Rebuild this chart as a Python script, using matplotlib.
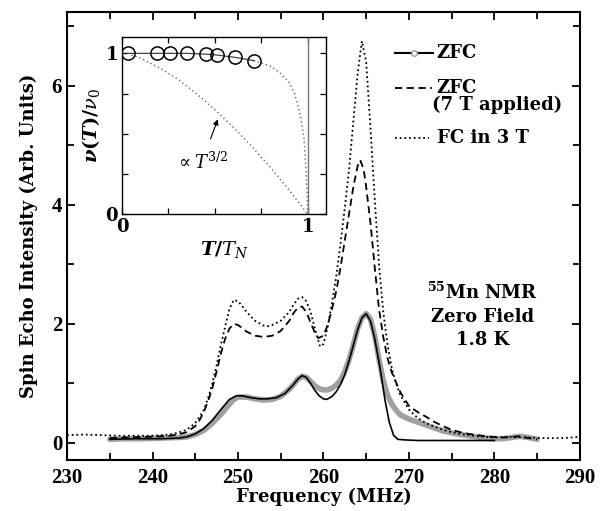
import matplotlib
matplotlib.use('Agg')
import matplotlib.pyplot as plt
from matplotlib.ticker import MultipleLocator

# ---- main spectra ----
freq_fc = [230, 232, 234, 236, 238, 240, 242, 243, 244, 245, 246, 246.5, 247, 247.5, 248, 248.5,
           249, 249.5, 250, 250.5, 251, 252, 253, 253.5, 254, 255, 256, 256.5, 257, 257.5, 258,
           258.5, 259, 259.6, 260, 260.5, 261, 261.5, 262, 262.5, 263, 263.5, 264, 264.5, 265,
           265.5, 266, 266.5, 267, 267.5, 268, 268.5, 269, 270, 271, 272, 273, 274, 275, 276,
           278, 280, 282, 284, 286, 288, 290]
int_fc = [0.13, 0.14, 0.13, 0.12, 0.12, 0.12, 0.14, 0.17, 0.22, 0.33, 0.55, 0.75, 1.0, 1.3, 1.65, 1.95,
          2.25, 2.4, 2.38, 2.3, 2.2, 2.05, 1.97, 1.96, 1.98, 2.05, 2.2, 2.32, 2.42, 2.45, 2.38,
          2.2, 1.92, 1.62, 1.66, 1.95, 2.35, 2.8, 3.35, 3.95, 4.6, 5.4, 6.2, 6.75, 6.4,
          5.3, 4.1, 3.0, 2.2, 1.65, 1.25, 1.0, 0.8, 0.56, 0.42, 0.33, 0.27, 0.22, 0.18, 0.15,
          0.11, 0.09, 0.1, 0.09, 0.08, 0.08, 0.1]

freq_7t = [235, 237, 239, 241, 242, 243, 244, 245, 245.5, 246, 246.5, 247, 247.5, 248, 248.5, 249,
           249.5, 250, 250.5, 251, 252, 253, 254, 255, 256, 256.5, 257, 257.5, 258, 258.5, 259,
           259.4, 260, 260.5, 261, 261.5, 262, 262.5, 263, 263.5, 264, 264.3, 264.7, 265, 265.5,
           266, 266.5, 267, 267.5, 268, 269, 270, 271, 272, 273, 274, 275, 276, 277, 278, 279,
           280, 281, 282, 283, 284, 285]
int_7t = [0.08, 0.09, 0.1, 0.11, 0.12, 0.14, 0.18, 0.28, 0.38, 0.52, 0.7, 0.92, 1.2, 1.5, 1.75, 1.92,
          2.0, 1.98, 1.93, 1.87, 1.8, 1.78, 1.8, 1.88, 2.05, 2.18, 2.27, 2.29, 2.2, 2.02, 1.85,
          1.76, 1.8, 1.98, 2.25, 2.55, 2.95, 3.4, 3.85, 4.3, 4.65, 4.75, 4.6, 4.3, 3.7,
          2.95, 2.25, 1.78, 1.42, 1.18, 0.85, 0.62, 0.52, 0.44, 0.35, 0.28, 0.22, 0.18, 0.15, 0.13, 0.11,
          0.1, 0.09, 0.1, 0.11, 0.08, 0.06]

freq_zfc = [235, 237, 239, 241, 243, 244, 245, 246, 247, 248, 249, 249.5, 250, 251, 252, 253, 254,
            255, 256, 256.5, 257, 257.5, 258, 258.5, 259, 259.5, 260, 260.5, 261, 261.5, 262, 262.5,
            263, 263.5, 264, 264.5, 265, 265.5, 266, 266.5, 267, 267.5, 268, 268.5, 269, 270, 271,
            272, 273, 274, 275, 276, 277, 278, 279, 280, 281, 282, 283, 284, 285]
int_zfc = [0.06, 0.07, 0.07, 0.08, 0.09, 0.1, 0.14, 0.21, 0.33, 0.48, 0.65, 0.73, 0.77, 0.77, 0.74, 0.72, 0.73,
           0.78, 0.9, 0.98, 1.07, 1.12, 1.1, 1.03, 0.96, 0.91, 0.89, 0.89, 0.92, 0.97, 1.05, 1.2,
           1.4, 1.65, 1.92, 2.1, 2.17, 2.08, 1.8, 1.4, 1.05, 0.8, 0.65, 0.55, 0.47, 0.4, 0.35,
           0.3, 0.25, 0.2, 0.17, 0.14, 0.12, 0.1, 0.08, 0.07, 0.07, 0.09, 0.11, 0.09, 0.06]

freq_fit = [235, 238, 241, 243, 244, 245, 246, 247, 248, 249, 249.8, 250.5, 251.5, 252.5, 253.5, 254.5,
            255.5, 256.5, 257, 257.5, 258, 258.5, 259, 259.5, 260, 260.4, 261, 261.5, 262, 262.5, 263,
            263.5, 264, 264.5, 265, 265.5, 266, 266.6, 267.2, 267.7, 268.2, 268.7, 269.5, 271, 274,
            277, 280]
int_fit = [0.06, 0.07, 0.07, 0.08, 0.1, 0.15, 0.24, 0.38, 0.56, 0.73, 0.79, 0.79, 0.76, 0.74, 0.74, 0.76,
           0.83, 0.98, 1.07, 1.13, 1.1, 1.0, 0.88, 0.79, 0.74, 0.73, 0.78, 0.86, 0.98, 1.15, 1.38,
           1.64, 1.9, 2.1, 2.17, 2.05, 1.75, 1.28, 0.72, 0.35, 0.13, 0.06, 0.05, 0.04, 0.04,
           0.04, 0.04]

# ---- inset: nu(T)/nu0 vs T/TN ----
t_pts = [0.03, 0.19, 0.26, 0.35, 0.45, 0.51, 0.61, 0.71]
nu_pts = [1.0, 1.0, 1.0, 1.0, 0.995, 0.99, 0.975, 0.955]
t_mf = [0.71, 0.75, 0.8, 0.85, 0.9, 0.93, 0.96, 0.98, 0.99, 0.998, 1.0]
nu_mf = [0.955, 0.94, 0.92, 0.88, 0.82, 0.75, 0.62, 0.48, 0.3, 0.12, 0.0]
t_pow = [0.05, 0.1, 0.2, 0.3, 0.4, 0.5, 0.6, 0.7, 0.8, 0.9, 1.0]
nu_pow = [0.99, 0.97, 0.91, 0.84, 0.75, 0.65, 0.54, 0.42, 0.29, 0.15, 0.0]

label_font = 'DejaVu Serif'
tick_font = 'Liberation Serif'
plt.rcParams['mathtext.fontset'] = 'dejavuserif'

fig = plt.figure(figsize=(6.04, 5.11), dpi=100)
ax = fig.add_axes([0.111, 0.100, 0.849, 0.8767])

ax.plot(freq_zfc, int_zfc, color='#a0a0a0', lw=4.0, solid_capstyle='round', zorder=2)
ax.plot(freq_fit, int_fit, color='black', lw=1.2, zorder=3)
ax.plot(freq_7t, int_7t, color='black', lw=1.3, ls=(0, (4, 2.5)), zorder=3)
ax.plot(freq_fc, int_fc, color='black', lw=1.3, ls=(0, (1, 1.6)), zorder=3)

ax.set_xlim(230, 290)
ax.set_ylim(-0.286, 7.24)
ax.xaxis.set_major_locator(MultipleLocator(10))
ax.xaxis.set_minor_locator(MultipleLocator(5))
ax.yaxis.set_major_locator(MultipleLocator(2))
ax.yaxis.set_minor_locator(MultipleLocator(1))
ax.tick_params(which='both', direction='in', top=True, right=True, width=1.3, labelsize=15,
               labelfontfamily=tick_font)
ax.tick_params(which='major', length=6)
ax.tick_params(which='minor', length=5)
ax.tick_params(axis='x', pad=6)
for lab in ax.get_xticklabels() + ax.get_yticklabels():
    lab.set_fontweight('bold')
for s in ax.spines.values():
    s.set_linewidth(1.5)

ax.set_xlabel('Frequency (MHz)', fontfamily=label_font, fontweight='bold', fontsize=13, labelpad=0)
ax.set_ylabel('Spin Echo Intensity (Arb. Units)', fontfamily=label_font, fontweight='bold',
              fontsize=13, labelpad=10)

# legend drawn by hand to match the layout
lkw = dict(transform=ax.transAxes, fontfamily=label_font, fontweight='bold', fontsize=13, va='center')
ax.plot([0.639, 0.713], [0.908, 0.908], color='black', lw=1.5, transform=ax.transAxes)
ax.plot([0.676], [0.908], marker='o', ms=4, mfc='white', mec='#9a9a9a', transform=ax.transAxes)
ax.text(0.721, 0.908, 'ZFC', **lkw)
ax.plot([0.639, 0.711], [0.830, 0.830], color='black', lw=1.3, ls=(0, (4, 2.5)), transform=ax.transAxes)
ax.text(0.721, 0.830, 'ZFC', **lkw)
ax.text(0.712, 0.792, '(7 T applied)', **lkw)
ax.plot([0.639, 0.705], [0.719, 0.719], color='black', lw=1.3, ls=(0, (1, 1.6)), transform=ax.transAxes)
ax.text(0.721, 0.719, 'FC in 3 T', **lkw)

tkw = dict(transform=ax.transAxes, fontfamily=label_font, fontweight='bold', fontsize=13,
           ha='center', va='center')
ax.text(0.811, 0.375, r'$^{\mathbf{55}}$Mn NMR', **tkw)
ax.text(0.811, 0.319, 'Zero Field', **tkw)
ax.text(0.811, 0.268, '1.8 K', **tkw)

# inset
axi = fig.add_axes([0.202, 0.581, 0.338, 0.346])
axi.axvline(1.0, color='#777777', lw=1.0)
axi.plot(t_pow, nu_pow, color='#666666', lw=1.0, ls=(0, (1, 2)))
axi.plot(t_mf, nu_mf, color='#666666', lw=1.0, ls=(0, (1, 2)))
axi.plot(t_pts, nu_pts, color='#444444', lw=0.9, marker='o', ms=9.5, mfc='none', mec='black', mew=1.1)
axi.set_xlim(0, 1.10)
axi.set_ylim(0, 1.10)
axi.set_xticks([0, 1])
axi.set_yticks([0, 1])
axi.set_xticks([0.25, 0.5, 0.75], minor=True)
axi.set_yticks([0.25, 0.5, 0.75], minor=True)
axi.tick_params(which='both', direction='in', top=True, right=True, width=0.9, labelsize=13, pad=3,
                labelfontfamily=label_font)
axi.tick_params(which='major', length=4)
axi.tick_params(which='minor', length=4)
for lab in axi.get_xticklabels() + axi.get_yticklabels():
    lab.set_fontweight('bold')
for s in axi.spines.values():
    s.set_linewidth(1.0)
axi.set_xlabel(r'$\boldsymbol{T/T_N}$', fontsize=14, labelpad=2)
axi.set_ylabel(r'$\boldsymbol{\nu(T)/\nu_0}$', fontsize=14, labelpad=2)
axi.annotate(r'$\propto T^{3/2}$', xy=(0.516, 0.59), xytext=(0.43, 0.32),
             fontsize=13, ha='center', va='center',
             arrowprops=dict(arrowstyle='-|>', color='black', lw=0.8, shrinkA=8, shrinkB=0,
                             mutation_scale=8))

fig.savefig('out.png', dpi=100)
